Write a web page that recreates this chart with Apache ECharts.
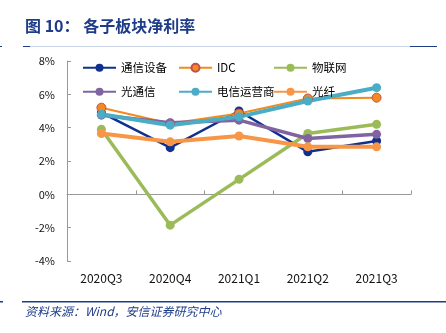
<!DOCTYPE html>
<html><head><meta charset="utf-8">
<script src="https://cdn.jsdelivr.net/npm/echarts@6/dist/echarts.min.js"></script>
<style>html,body{margin:0;padding:0;background:#fff}#c{width:446px;height:333px}</style>
</head><body><div id="c"></div>
<script>
const categories = ['2020Q3','2020Q4','2021Q1','2021Q2','2021Q3'];
const seriesNames = ['通信设备','IDC','物联网','光通信','电信运营商','光纤'];
const txsb = [4.9, 2.8, 5.0, 2.55, 3.2];
const idc = [5.2, 4.25, 4.85, 5.75, 5.8];
const wlw = [3.9, -1.85, 0.9, 3.65, 4.2];
const gtx = [4.75, 4.3, 4.45, 3.35, 3.6];
const dxyys = [4.8, 4.15, 4.65, 5.6, 6.4];
const gx = [3.65, 3.15, 3.5, 2.85, 2.85];
const yTicks = [-4, -2, 0, 2, 4, 6, 8];

const chart = echarts.init(document.getElementById('c'));
const FONT = '"Noto Sans CJK SC", "Noto Sans", sans-serif';
function mk(name, data, color, lw, sym, border) {
  return {
    name, type: 'line', data, xAxisIndex: 0,
    symbol: 'circle', symbolSize: sym,
    lineStyle: { color, width: lw },
    itemStyle: { color, borderColor: border || color, borderWidth: border ? 1 : 0 },
    emphasis: { disabled: true }
  };
}
const order = [
  mk(seriesNames[0], txsb, '#10308F', 2.5, 9),
  mk(seriesNames[1], idc, '#F28A1E', 2, 9, '#C0504D'),
  mk(seriesNames[2], wlw, '#9BBB59', 3.5, 9),
  mk(seriesNames[3], gtx, '#8064A2', 3.5, 9),
  mk(seriesNames[4], dxyys, '#4BACC6', 4, 9),
  mk(seriesNames[5], gx, '#F79646', 4, 9)
];
const legCols = [82, 178, 273];
const legRows = [62, 86];
const legends = seriesNames.map((n, i) => ({
  data: [n], left: legCols[i % 3], top: legRows[Math.floor(i / 3)], padding: 0,
  itemWidth: 33, itemHeight: 10,
  textStyle: { fontSize: 11.5, color: '#000', fontFamily: FONT }
}));
chart.setOption({
  animation: false,
  textStyle: { fontFamily: FONT },
  grid: { left: 67, right: 35, top: 61, bottom: 72 },
  legend: legends,
  xAxis: [{
    type: 'category', data: categories, boundaryGap: true,
    axisLine: { onZero: true, lineStyle: { color: '#999', width: 1 } },
    axisTick: { show: true, inside: true, length: 4, lineStyle: { color: '#999' } },
    axisLabel: { show: false }
  }, {
    type: 'category', data: categories, position: 'bottom',
    axisLine: { show: false, onZero: false }, axisTick: { show: false },
    axisLabel: { fontSize: 12, color: '#111', margin: 11, fontFamily: FONT }
  }],
  yAxis: {
    type: 'value', min: -4, max: 8, interval: 2,
    axisLine: { show: true, lineStyle: { color: '#999' } },
    axisTick: { show: true, inside: true, length: 4, lineStyle: { color: '#999' } },
    splitLine: { show: false },
    axisLabel: { fontSize: 11, color: '#111', margin: 12, formatter: v => v + '%', fontFamily: FONT }
  },
  series: order,
  graphic: [
    { type: 'text', left: 25, top: 18, style: { text: '图 10： 各子板块净利率', fill: '#1F3C88', font: 'bold 16px ' + FONT } },
    { type: 'rect', shape: { x: 23, y: 46, width: 414, height: 1 }, style: { fill: '#C9D3E6' } },
    { type: 'rect', shape: { x: 23, y: 46, width: 7, height: 1 }, style: { fill: '#1F3C88' } },
    { type: 'rect', shape: { x: 410, y: 46, width: 27, height: 1 }, style: { fill: '#1F3C88' } },
    { type: 'rect', shape: { x: 0, y: 46, width: 2, height: 1 }, style: { fill: '#1F3C88' } },
    { type: 'rect', shape: { x: 22, y: 301, width: 424, height: 1.5 }, style: { fill: '#1F3C88' } },
    { type: 'rect', shape: { x: 0, y: 301, width: 3, height: 1.5 }, style: { fill: '#1F3C88' } },
    { type: 'text', left: 25, top: 305, style: { text: '资料来源：Wind，安信证券研究中心', fill: '#1F3C88', font: 'italic 12px ' + FONT } }
  ]
});
</script></body></html>
